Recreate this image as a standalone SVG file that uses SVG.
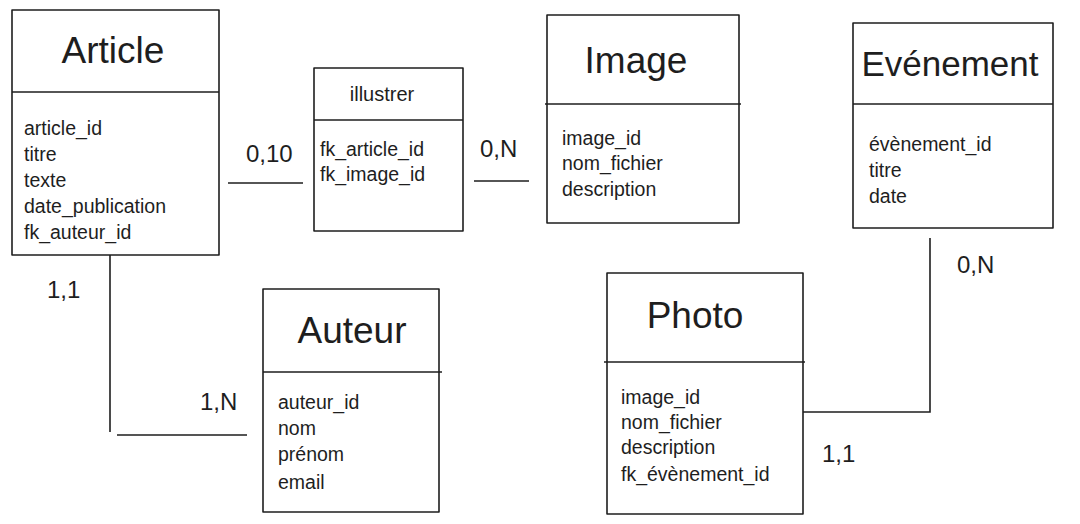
<svg xmlns="http://www.w3.org/2000/svg" width="1080" height="524" viewBox="0 0 1080 524">
<style>
.box{fill:none;stroke:#1e1e1e;stroke-width:1.6;stroke-linejoin:round}
.conn{fill:none;stroke:#1e1e1e;stroke-width:1.6}
.title{font-family:"Liberation Sans",Arial,sans-serif;font-size:37px;fill:#1e1e1e;text-anchor:middle}
.sub{font-family:"Liberation Sans",Arial,sans-serif;font-size:20px;fill:#1e1e1e;text-anchor:middle}
.f{font-family:"Liberation Sans",Arial,sans-serif;font-size:19.5px;fill:#1e1e1e}
.lab{font-family:"Liberation Sans",Arial,sans-serif;font-size:24px;fill:#1e1e1e}
</style>
<rect width="1080" height="524" fill="#ffffff"/>
<g id="connectors">
<path class="conn" d="M228 183 L303 183"/>
<path class="conn" d="M474 181 L529 181"/>
<path class="conn" d="M110 255 L110 432 M117 435 L247 435"/>
<path class="conn" d="M803 412 L930 412 L930 238"/>
<text class="lab" x="246" y="162">0,10</text>
<text class="lab" x="480" y="157">0,N</text>
<text class="lab" x="47" y="298">1,1</text>
<text class="lab" x="200" y="410">1,N</text>
<text class="lab" x="957" y="273">0,N</text>
<text class="lab" x="822" y="462">1,1</text>
</g>
<g id="article">
<rect class="box" x="12" y="10" width="207" height="245"/>
<line class="box" x1="12" y1="92" x2="219" y2="92"/>
<text class="title" x="113" y="63">Article</text>
<text class="f" x="24" y="135">article_id</text>
<text class="f" x="24" y="161">titre</text>
<text class="f" x="24" y="187">texte</text>
<text class="f" x="24" y="213">date_publication</text>
<text class="f" x="24" y="239">fk_auteur_id</text>
</g>
<g id="illustrer">
<rect class="box" x="314" y="68" width="149" height="163"/>
<line class="box" x1="314" y1="120" x2="463" y2="120"/>
<text class="sub" x="382" y="101">illustrer</text>
<text class="f" x="320" y="156">fk_article_id</text>
<text class="f" x="320" y="181">fk_image_id</text>
</g>
<g id="image">
<rect class="box" x="547" y="15" width="192" height="208"/>
<line class="box" x1="545" y1="104" x2="741" y2="104"/>
<text class="title" x="636" y="73">Image</text>
<text class="f" x="562" y="145">image_id</text>
<text class="f" x="562" y="170">nom_fichier</text>
<text class="f" x="562" y="196">description</text>
</g>
<g id="evenement">
<rect class="box" x="853" y="23" width="200" height="205"/>
<line class="box" x1="853" y1="104" x2="1053" y2="104"/>
<text class="title" x="950" y="76" style="font-size:35px">Evénement</text>
<text class="f" x="869" y="151">évènement_id</text>
<text class="f" x="869" y="177">titre</text>
<text class="f" x="869" y="203">date</text>
</g>
<g id="auteur">
<rect class="box" x="263" y="289" width="176" height="223"/>
<line class="box" x1="263" y1="372" x2="442" y2="372"/>
<text class="title" x="352" y="343">Auteur</text>
<text class="f" x="278" y="409">auteur_id</text>
<text class="f" x="278" y="435">nom</text>
<text class="f" x="278" y="461">prénom</text>
<text class="f" x="278" y="489">email</text>
</g>
<g id="photo">
<rect class="box" x="607" y="273" width="196" height="241"/>
<line class="box" x1="604" y1="362" x2="805" y2="362"/>
<text class="title" x="695" y="328">Photo</text>
<text class="f" x="621" y="404">image_id</text>
<text class="f" x="621" y="429">nom_fichier</text>
<text class="f" x="621" y="454">description</text>
<text class="f" x="621" y="481">fk_évènement_id</text>
</g>
</svg>
